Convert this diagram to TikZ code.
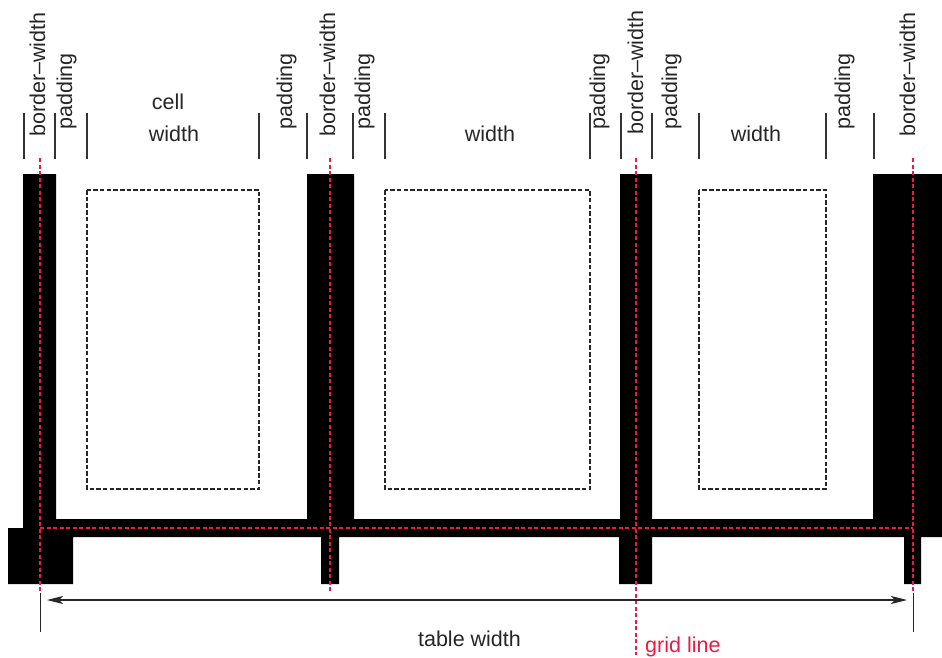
\documentclass[tikz,border=0pt]{standalone}
\usepackage{fontspec}
\setmainfont{Liberation Sans}
\usetikzlibrary{arrows.meta}
\definecolor{gridred}{RGB}{235,25,70}
\begin{document}
\begin{tikzpicture}[x=1pt,y=-1pt,
  txt/.style={font=\fontsize{21.5}{24}\selectfont, inner sep=0pt, text=black!85},
  vlabel/.style={txt, rotate=90, anchor=base west},
  hlabel/.style={txt, anchor=base},
  tick/.style={line width=1.2pt, draw=black!80},
  gridln/.style={draw=gridred, line width=1.1pt, dash pattern=on 4pt off 2.5pt},
  cellbox/.style={draw=black!85, line width=1.1pt, dash pattern=on 4.5pt off 2.2pt},
  borderfill/.style={fill=black, draw=none},
  dimline/.style={line width=1.2pt, draw=black!85},
  dimarrow/.style={dimline, {Stealth[length=16pt,width=8pt,inset=4pt]}-{Stealth[length=16pt,width=8pt,inset=4pt]}}
]
\useasboundingbox (0,0) rectangle (942,658);

% table borders (one solid outline)
\fill[borderfill]
  (23,174) -- (56,174) -- (56,519) -- (307,519) -- (307,174) -- (354,174)
  -- (354,519) -- (620,519) -- (620,174) -- (652,174) -- (652,519)
  -- (873,519) -- (873,174) -- (942,174) -- (942,537) -- (921,537)
  -- (921,584) -- (904,584) -- (904,537) -- (652,537) -- (652,584)
  -- (619,584) -- (619,537) -- (339,537) -- (339,584) -- (321,584)
  -- (321,537) -- (73,537) -- (73,584) -- (8,584) -- (8,528) -- (23,528)
  -- cycle;

% cell content boxes
\draw[cellbox] (87,190) rectangle (259,489);
\draw[cellbox] (385,190) rectangle (590,489);
\draw[cellbox] (699,190) rectangle (826,489);

% measurement ticks
\foreach \tx in {24,55,87,259,307,353,385,590,621,652,699,826,874}
  \draw[tick] (\tx,113) -- (\tx,159);

% grid lines
\draw[gridln] (40,158) -- (40,593);
\draw[gridln] (330,158) -- (330,592);
\draw[gridln] (636,158) -- (636,655);
\draw[gridln] (913,158) -- (913,593);
\draw[gridln] (40,528) -- (913,528);

% table width dimension
\coordinate (wl) at (40,600);
\coordinate (wr) at (913,600);
\coordinate (wlb) at (40,632);
\coordinate (wrb) at (913,632);
\draw[dimline, line width=1pt] (40,593) -- (wlb);
\draw[dimline, line width=1pt] (913,593) -- (wrb);
\draw[dimarrow, shorten <=7pt, shorten >=6pt] (wl) -- (wr);

% labels
\node[hlabel] (cell) at (168,110) {cell};
\node[hlabel] (w1) at (174,141.5) {width};
\node[hlabel] (w2) at (490,141.5) {width};
\node[hlabel] (w3) at (756,141.5) {width};

\node[vlabel] (b1) at (45,137) {border\textendash width};
\node[vlabel] (b2) at (335,137) {border\textendash width};
\node[vlabel] (b3) at (643,135) {border\textendash width};
\node[vlabel] (b4) at (915,137) {border\textendash width};

\node[vlabel] (p1) at (72,130) {padding};
\node[vlabel] (p2) at (292,130) {padding};
\node[vlabel] (p3) at (370,130) {padding};
\node[vlabel] (p4) at (605,130) {padding};
\node[vlabel] (p5) at (677,130) {padding};
\node[vlabel] (p6) at (850,130) {padding};

\node[hlabel] (tw) at (469.5,646) {table width};
\node[txt, anchor=base west, text=gridred] (gl) at (645,652) {grid line};
\end{tikzpicture}
\end{document}
